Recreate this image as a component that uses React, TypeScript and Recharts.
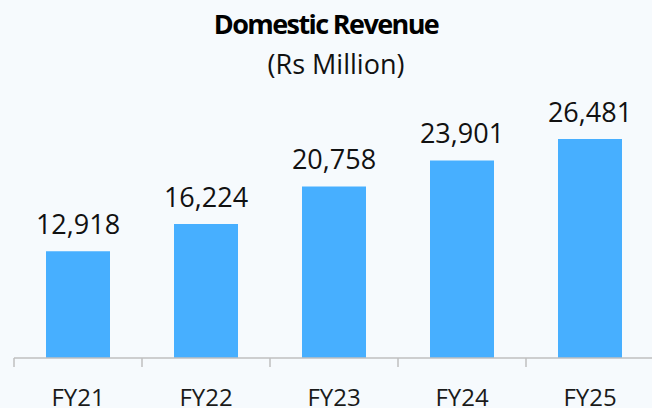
import { BarChart, Bar, XAxis, YAxis, LabelList } from "recharts";

const years = ["FY21", "FY22", "FY23", "FY24", "FY25"];
const revenue = [12918, 16224, 20758, 23901, 26481];
const boundaryTicks = [0, 1, 2, 3, 4, 5];

const data = years.map((year, i) => ({ year, revenue: revenue[i], pos: i + 0.5 }));

const font = "'Open Sans', 'Noto Sans', sans-serif";

export default function App() {
  return (
    <div
      style={{
        position: "fixed",
        top: 0,
        left: 0,
        width: 652,
        height: 408,
        overflow: "hidden",
        background: "#F6FAFD",
        fontFamily: font,
      }}
    >
      <div
        style={{
          position: "absolute",
          top: 5,
          left: 0,
          width: 652,
          textAlign: "center",
          fontWeight: 700,
          fontSize: 27,
          letterSpacing: -1.6,
          color: "#000",
        }}
      >
        Domestic Revenue
      </div>
      <div
        style={{
          position: "absolute",
          top: 45,
          left: 20,
          width: 632,
          textAlign: "center",
          fontSize: 27,
          color: "#111",
        }}
      >
        (Rs Million)
      </div>
      <div style={{ position: "absolute", top: 0, left: 0 }}>
        <BarChart
          width={654}
          height={408}
          data={data}
          margin={{ top: 110, right: 0, bottom: 0, left: 14 }}
          barCategoryGap="25%"
        >
          <XAxis
            xAxisId="axisA"
            type="number"
            dataKey="pos"
            domain={[0, 5]}
            ticks={boundaryTicks}
            height={10}
            tickFormatter={() => ""}
            tickSize={9}
            axisLine={{ stroke: "#BFBFBF", strokeWidth: 1.5 }}
            tickLine={{ stroke: "#BFBFBF", strokeWidth: 1.5 }}
          />
          <XAxis
            dataKey="year"
            xAxisId="axisB"
            height={40}
            axisLine={false}
            tickLine={false}
            tick={{ fontSize: 24, fill: "#1a1a1a", fontFamily: font }}
            dy={13}
            interval={0}
          />
          <YAxis hide domain={[0, 30000]} />
          <Bar dataKey="revenue" xAxisId="axisB" fill="#47AFFF" isAnimationActive={false}>
            <LabelList
              dataKey="revenue"
              position="top"
              offset={17}
              formatter={(v: any) => Number(v).toLocaleString("en-US")}
              style={{ fontSize: 27, fill: "#111", fontFamily: font }}
            />
          </Bar>
        </BarChart>
      </div>
    </div>
  );
}
